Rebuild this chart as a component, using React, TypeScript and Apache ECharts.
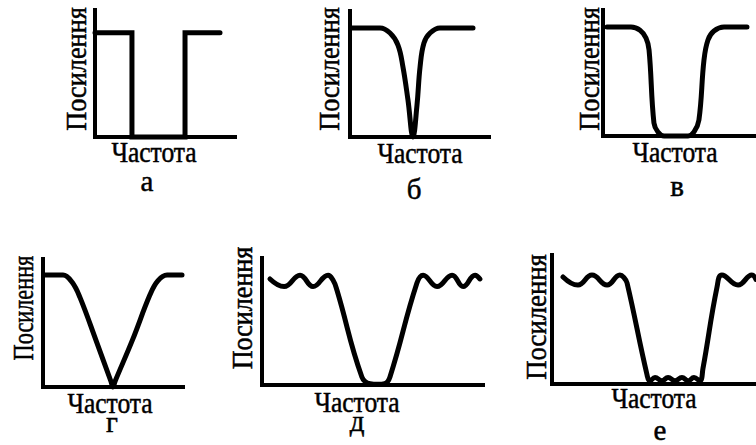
import React, { useEffect, useRef } from "react";
import * as echarts from "echarts";

// Axis titles and panel letters
const Y_NAME = "Посилення";
const X_NAME = "Частота";
const PANEL_LETTERS = ["а", "б", "в", "г", "д", "е"];

// Gain vs frequency, both in percent of the axis length
const idealNotch = [
  [0, 82], [26.4, 82], [26.4, 0], [64.3, 0], [64.3, 82], [89.3, 82],
];
const narrowNotch = [
  [1.4, 86.5], [15, 86.5], [21.6, 86.5], [28.8, 82.5], [34.5, 73], [38.1, 55.6],
  [41.7, 29.4], [45.3, 0], [48.2, 25.4], [50.4, 55.6], [53.2, 74.6], [57.6, 82.5],
  [64.7, 86.5], [72, 86.5], [88.5, 86.5],
];
const wideNotch = [
  [2.6, 86.5], [12, 86.5], [18.3, 86.5], [24.2, 84], [28.1, 77.8], [30.1, 68.3],
  [33.3, 10.3], [35.9, 3.2], [39.9, 0], [47, 0], [55.6, 0], [59.5, 3.2],
  [62.7, 12.7], [66, 60.3], [68.6, 76.2], [72.5, 83.3], [79.1, 86.5], [86, 86.5],
  [94.1, 86.5],
];
const gentleNotch = [
  [1.4, 87.5], [8, 87.5], [14.3, 87.5], [20.7, 82], [26.4, 70], [38, 36],
  [48.5, 4.5], [50, 0], [51.5, 4.5], [64, 37], [76.4, 72], [82, 83],
  [88.6, 87.5], [94, 87.5], [99.3, 87.5],
];
const rippleNotch = [
  [3.6, 83.5], [10, 77.5], [17.2, 86.5], [23.1, 77.5], [29.9, 86.5], [32, 83],
  [33.9, 74.8], [45.2, 6.3], [48.9, 1], [52.5, 0.5], [55.5, 1], [57.9, 6.3],
  [70.1, 80.3], [72.9, 86.5], [79.2, 77.5], [86, 86.5], [91, 77.5], [96.4, 86.5],
  [98.6, 83.5],
];
const rippleStopNotch = [
  [5.4, 83], [12.7, 76.7], [19.6, 84.5], [27, 76.7], [33.3, 84.5], [35.5, 82],
  [36.8, 78.3], [46.6, 7], [48, 2.5], [50.5, 5], [53.9, 2.5], [56.9, 5],
  [60.3, 2.5], [63.7, 5], [66.7, 2.5], [69.6, 5], [72.5, 2.5], [74, 12],
  [80.9, 75.2], [83.3, 84.5], [91.2, 76.7], [98, 84.5], [100, 81],
];

const RESPONSES = [idealNotch, narrowNotch, wideNotch, gentleNotch, rippleNotch, rippleStopNotch];

// Plot boxes (pixel positions of the axes) and curve smoothing
const PANELS = [
  { left: 95, top: 10, width: 140, height: 127, smooth: 0 },
  { left: 350, top: 11, width: 139, height: 126, smooth: 0.4 },
  { left: 603, top: 10, width: 153, height: 126, smooth: 0.4 },
  { left: 43, top: 259, width: 140, height: 128, smooth: 0.4 },
  { left: 262, top: 258, width: 221, height: 127, smooth: 0.45 },
  { left: 552, top: 255, width: 204, height: 129, smooth: 0.45 },
];

// Title placement: x-title centre, panel letter centre, y-title centre and length
const TITLES = [
  { xt: [154, 152], letter: [147, 181], yt: [76, 69], yLen: 118 },
  { xt: [420, 153], letter: [414, 189], yt: [329, 69], yLen: 118 },
  { xt: [675, 152], letter: [677, 186], yt: [589, 69], yLen: 118 },
  { xt: [110, 403], letter: [112, 422], yt: [23, 308], yLen: 100 },
  { xt: [357, 402], letter: [357, 421], yt: [242, 308], yLen: 117 },
  { xt: [654, 398], letter: [660, 430], yt: [536, 317], yLen: 120 },
];

const FONT = "29px Liberation Serif, DejaVu Serif, serif";
const X_NAME_SCALE = 0.88;
const Y_NAME_NATURAL = 130; // approx. rendered length of Y_NAME in FONT

export default function App() {
  const ref = useRef<HTMLDivElement>(null);

  useEffect(() => {
    if (!ref.current) return;
    const chart = echarts.init(ref.current, undefined, { renderer: "svg" });

    const axisCommon = {
      type: "value" as const,
      min: 0,
      max: 100,
      axisLine: { show: true, onZero: false, lineStyle: { color: "#000", width: 4, cap: "square" } },
      axisTick: { show: false },
      axisLabel: { show: false },
      splitLine: { show: false },
    };

    // Lightly stroked glyphs give the heavier print look of the titles
    const textStyle = (text: string) => ({
      text,
      font: FONT,
      fill: "#000",
      stroke: "#000",
      lineWidth: 0.5,
      align: "center",
      verticalAlign: "middle",
    });

    const graphics: any[] = [];
    TITLES.forEach((t, i) => {
      graphics.push({ type: "text", x: t.xt[0], y: t.xt[1], scaleX: X_NAME_SCALE, style: textStyle(X_NAME) });
      graphics.push({ type: "text", x: t.letter[0], y: t.letter[1], style: textStyle(PANEL_LETTERS[i]) });
      graphics.push({
        type: "text",
        x: t.yt[0],
        y: t.yt[1],
        rotation: Math.PI / 2,
        scaleX: t.yLen / Y_NAME_NATURAL,
        style: textStyle(Y_NAME),
      });
    });

    chart.setOption({
      animation: false,
      backgroundColor: "#fff",
      grid: PANELS.map((p) => ({ left: p.left, top: p.top, width: p.width, height: p.height, show: false })),
      xAxis: PANELS.map((_, i) => ({ ...axisCommon, gridIndex: i })),
      yAxis: PANELS.map((_, i) => ({ ...axisCommon, gridIndex: i })),
      series: RESPONSES.map((data, i) => ({
        type: "line",
        xAxisIndex: i,
        yAxisIndex: i,
        data,
        symbol: "none",
        showSymbol: false,
        smooth: PANELS[i].smooth || false,
        clip: false,
        silent: true,
        lineStyle: {
          color: "#000",
          width: 5,
          cap: "round",
          join: i === 0 ? "miter" : "round",
        },
      })),
      graphic: graphics,
    });

    return () => chart.dispose();
  }, []);

  return (
    <div
      ref={ref}
      style={{ position: "absolute", left: 0, top: 0, width: 756, height: 445 }}
    />
  );
}
